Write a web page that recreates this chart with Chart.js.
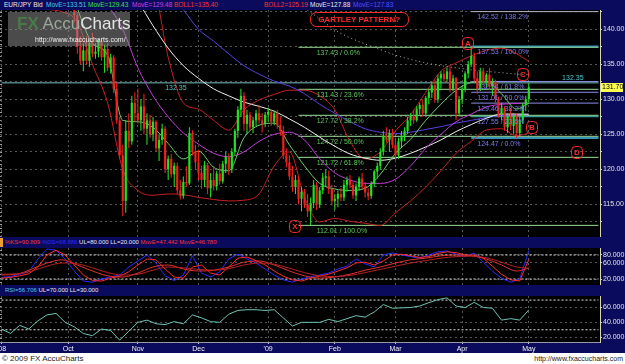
<!DOCTYPE html>
<html>
<head>
<meta charset="utf-8">
<script src="https://cdn.jsdelivr.net/npm/chart.js@4.4.0/dist/chart.umd.min.js"></script>
<style>
body { margin:0; width:625px; height:364px; overflow:hidden; background:#fff; position:relative; font-family:"Liberation Sans", Arial, sans-serif; }
.bar { position:absolute; left:0; width:625px; background:#0b0b5e; white-space:nowrap; overflow:hidden; }
.bar span { position:absolute; }
canvas { position:absolute; left:0; }
#wm { position:absolute; left:8px; top:12px; width:122px; height:34px; background:rgba(150,150,150,0.5); }
#foot { position:absolute; left:0; top:353px; width:625px; height:11px; font-size:8px; color:#222; }
</style>
</head>
<body>

<div class="bar" id="h1" style="top:0;height:10px;font-size:6.5px;line-height:10px">
  <span style="left:4px;color:#e8e8e8">EUR/JPY Bid</span>
  <span style="left:46px;color:#48c8e8">MovE=133.51</span>
  <span style="left:88px;color:#40e040">MovE=129.43</span>
  <span style="left:132px;color:#d040e0">MovE=129.48</span>
  <span style="left:174px;color:#ff3030">BOLL1=135.40</span>
  <span style="left:264px;color:#ff3030">BOLL2=125.19</span>
  <span style="left:310px;color:#e8e8e8">MovE=127.88</span>
  <span style="left:353px;color:#5050ff">MovE=127.83</span>
</div>
<canvas id="cMain" width="625" height="227" style="top:10px"></canvas>
<div id="wm">
  <div style="position:absolute;left:9px;top:3px;font-size:17px;line-height:18px;white-space:nowrap"><b style="color:#4a7a4a">FX</b> <span style="color:#9aa89a">Accu</span><span style="color:#e4e4e4">Charts</span></div>
  <div style="position:absolute;left:27px;top:24px;font-size:7px;color:#f0f0f0;white-space:nowrap">http://www.fxaccucharts.com/</div>
</div>

<div class="bar" id="h2" style="top:237px;height:11px;font-size:6px;line-height:11px">
  <span style="left:0;top:1px;width:3px;height:9px;background:#f0a030"></span>
  <span style="left:5px;color:#ff3030">%KS=90.809 <span style="position:static;color:#2a2aff">%DS=68.886</span> <span style="position:static;color:#e8e8e8">UL=80.000 LL=20.000</span> MovE=47.442 MovE=46.780</span>
</div>
<canvas id="cStoch" width="625" height="37" style="top:248px"></canvas>

<div class="bar" id="h3" style="top:285px;height:11px;font-size:6px;line-height:11px">
  <span style="left:5px;color:#48c8e8">RSI=56.706 <span style="position:static;color:#e8e8e8">UL=70.000 LL=30.000</span></span>
</div>
<canvas id="cRsi" width="625" height="57" style="top:296px"></canvas>

<div id="foot">
  <span style="position:absolute;left:2px;top:1px">© 2009 FX AccuCharts</span>
  <span style="position:absolute;right:2px;top:2px;font-size:7px">http://www.fxaccucharts.com</span>
</div>

<script>
// ---- data ----
const xTickLabels = ["'08", 'Oct', 'Nov', 'Dec', "'09", 'Feb', 'Mar', 'Apr', 'May'];
const priceTicks = [112.5, 115, 117.5, 120, 122.5, 125, 127.5, 130, 132.5, 135, 137.5, 140, 142.5];
const stochTicks = [20, 60, 80];
const rsiTicks = [20, 40, 60];

// daily EUR/JPY candles, 1 Sep 2008 .. 1 May 2009
const candleOpen = [
  158.5,158.2,157.0,155.0,152.5,151.0,154.0,152.0,151.2,153.0,152.2,149.0,150.0,148.5,151.5,154.0,155.5,154.0,155.0,153.0,152.0,147.5,150.0,147.0,144.0,
  142.0,137.5,135.5,137.0,135.5,138.0,136.5,136.8,138.2,136.0,137.2,134.5,136.0,131.5,127.0,122.0,115.5,125.5,124.0,129.5,128.0,127.0,129.0,125.8,127.0,
  125.0,126.8,123.0,124.2,125.8,120.0,121.5,119.3,120.5,117.0,116.2,118.2,118.0,125.2,122.6,121.0,119.5,118.5,120.6,117.3,118.5,117.6,119.4,118.3,120.8,
  121.8,120.0,122.5,125.5,128.5,130.5,126.5,127.8,126.0,127.0,128.0,127.0,126.5,127.8,128.2,126.8,128.0,126.3,125.5,122.0,121.0,119.0,117.5,118.5,115.8,
  116.8,115.0,114.0,115.2,117.8,115.0,117.0,118.8,119.0,117.2,115.5,115.8,116.5,116.0,117.8,118.5,117.8,116.3,117.5,118.7,117.6,116.7,116.2,117.9,119.7,
  120.5,122.5,124.8,124.2,125.2,123.5,122.0,124.0,124.8,125.5,127.0,127.6,127.0,128.6,129.2,128.0,130.2,131.0,132.0,130.0,133.0,133.6,132.9,134.0,131.5,
  133.0,128.0,130.0,131.5,133.7,135.0,136.2,133.0,131.5,134.0,132.5,133.5,131.8,132.5,130.0,127.8,128.8,126.0,127.5,126.2,127.6,125.2,127.0,129.2,130.0
];
const candleHigh = [
  159.5,158.8,157.5,155.8,153.5,154.5,154.5,153.0,153.5,153.8,152.5,151.0,150.5,152.0,155.0,156.0,156.0,155.5,155.5,154.0,152.5,151.0,151.0,148.0,145.5,
  142.5,139.0,138.0,139.0,138.5,139.5,138.0,138.6,138.8,137.8,138.0,136.5,136.3,132.4,127.5,123.5,127.0,128.0,130.5,131.0,131.5,130.0,130.8,128.0,127.8,
  127.5,127.0,125.0,126.5,126.2,122.0,122.2,121.0,121.0,118.5,119.0,120.5,126.0,125.6,123.5,122.8,120.5,121.2,120.9,119.5,120.5,119.8,120.8,121.2,122.5,
  122.3,123.0,125.8,129.0,131.5,131.0,128.5,128.2,127.5,128.5,129.2,128.0,128.2,128.8,128.6,128.4,128.5,127.5,126.2,123.0,122.0,120.5,119.2,119.0,117.5,
  117.2,116.5,116.0,118.5,118.2,117.5,119.5,120.0,119.8,117.8,116.5,117.0,117.3,118.5,119.0,119.2,118.2,118.0,119.0,119.5,118.2,117.3,118.3,120.0,121.0,
  123.0,125.5,126.0,125.7,125.8,124.5,124.5,125.5,126.0,127.5,128.0,128.5,129.0,129.5,130.0,130.5,131.5,132.5,132.8,133.5,134.0,134.2,134.5,134.7,133.5,
  133.2,130.5,131.8,134.0,135.5,137.43,136.7,134.0,134.5,134.5,133.8,134.5,133.0,132.8,130.4,129.5,129.0,128.0,128.8,128.0,128.0,127.5,129.5,130.5,132.35
];
const candleLow = [
  157.5,156.5,154.5,151.5,150.0,150.8,151.5,150.5,150.8,151.5,148.0,146.5,147.5,147.0,151.0,153.0,153.5,153.0,152.5,151.5,146.0,147.0,146.0,143.5,141.0,
  136.5,135.0,134.0,135.0,134.6,136.0,135.8,136.0,135.5,133.8,134.0,133.7,130.9,126.5,121.5,113.3,113.8,123.0,123.5,126.8,126.5,125.5,125.0,123.5,124.5,
  124.0,122.5,121.2,123.5,119.5,118.5,118.8,117.5,116.5,115.7,115.8,117.5,117.8,122.0,120.0,118.5,117.2,117.5,116.5,116.0,117.0,117.0,117.8,118.0,119.5,
  119.2,119.5,122.0,124.5,127.5,125.5,125.0,125.5,125.2,126.2,126.5,125.3,126.0,126.8,126.2,126.3,125.8,124.8,121.5,120.3,118.5,116.8,116.5,115.0,114.0,
  114.5,113.2,112.01,114.5,114.2,114.5,116.5,117.5,116.5,114.8,114.2,114.6,115.5,115.5,116.8,117.3,115.8,115.5,117.0,117.2,116.0,115.6,115.8,117.5,118.7,
  120.0,122.0,123.8,122.5,123.0,121.3,121.5,123.2,124.0,125.0,126.2,126.5,126.8,127.8,127.5,127.7,129.3,130.2,129.5,129.5,131.5,132.4,132.5,131.0,131.2,
  127.0,127.5,129.3,131.0,133.0,134.6,132.5,130.8,131.2,132.0,131.6,131.3,130.5,129.5,127.4,127.0,125.5,125.2,125.6,125.0,124.47,124.8,126.5,128.3,129.6
];
const candleClose = [
  158.2,157.0,155.0,152.5,151.0,154.0,152.0,151.2,153.0,152.2,149.0,150.0,148.5,151.5,154.0,155.5,154.0,155.0,153.0,152.0,147.5,150.0,147.0,144.0,142.0,
  137.5,135.5,137.0,135.5,138.0,136.5,136.8,138.2,136.0,137.2,134.5,136.0,131.5,127.0,122.0,115.5,125.5,124.0,129.5,128.0,127.0,129.0,125.8,127.0,125.0,
  126.8,123.0,124.2,125.8,120.0,121.5,119.3,120.5,117.0,116.2,118.2,118.0,125.2,122.6,121.0,119.5,118.5,120.6,117.3,118.5,117.6,119.4,118.3,120.8,121.8,
  120.0,122.5,125.5,128.5,130.5,126.5,127.8,126.0,127.0,128.0,127.0,126.5,127.8,128.2,126.8,128.0,126.3,125.5,122.0,121.0,119.0,117.5,118.5,115.8,116.8,
  115.0,114.0,115.2,117.8,115.0,117.0,118.8,119.0,117.2,115.5,115.8,116.5,116.0,117.8,118.5,117.8,116.3,117.5,118.7,117.6,116.7,116.2,117.9,119.7,120.5,
  122.5,124.8,124.2,125.2,123.5,122.0,124.0,124.8,125.5,127.0,127.6,127.0,128.6,129.2,128.0,130.2,131.0,132.0,130.0,133.0,133.6,132.9,134.0,131.5,133.0,
  128.0,130.0,131.5,133.7,135.0,136.2,133.0,131.5,134.0,132.5,133.5,131.8,132.5,130.0,127.8,128.8,126.0,127.5,126.2,127.6,125.2,127.0,129.2,130.0,131.7
];

// overlays read once a week (every 5th bar, last one on the final bar)
const maGreen  = [156,154.5,151.5,150,149.5,143,138,136.3,127,126.8,126,123.7,121.5,122.6,120.3,119.8,124.5,126.3,126.6,123.5,120.5,118,117.2,117,117.3,119.3,122.3,124.3,127,129.3,131.3,132.4,132.5,130.8,128.6,129.43];
const maMagenta= [158,157,155,153.5,152,149,146,143.5,140,134.5,130.5,127.5,125.2,123.6,122.3,121.8,122.5,124,125,125.3,124.2,121.5,119.5,118.5,118,118,118.6,120.5,123,125,126.8,127.9,128.9,129.3,129.4,129.48];
const maWhite  = [160,159.5,158.5,157,155.5,153.5,151.5,149.5,147,144,140.5,137.3,134.8,133,131.5,130.5,129.6,129,128.3,127.2,126,124.6,123.3,122.2,121.6,121.3,121.6,122.3,123.2,124.2,125.4,126.4,127.3,127.9,127.9,127.88];
const maBlue   = [163,162.5,162,161,160,158.5,157,155.5,153.5,151,148.5,145.5,142.8,140,138.3,136.5,134.8,133.6,132.6,131.9,130.8,129.3,128,126.8,125.8,125.3,125.1,125.3,125.7,126.1,126.6,127,127.4,127.7,127.8,127.83];
const maDotted = [166,165.8,165.5,165,164.5,163.8,163,162,160.8,159.5,158.2,156.8,155.3,153.8,152.3,150.8,149.3,147.8,146.3,144.6,143,141.5,139.9,138.8,137.9,137.1,136.3,135.7,135.2,134.8,134.5,134.2,134,133.8,133.6,133.51];
const bollUpper= [162,162,160,158,157,156,155,154,153,150,147,136,129.5,128.6,127,125.6,128.5,129.9,130.7,131.3,131.3,130.5,128.5,124,121.5,122.5,125.5,127.8,131,134,135.2,136.2,137,137.3,136.5,135.4];
const bollLower= [145,146,145,143,142.5,141,135,129.5,120,117,116.3,116.5,116.4,116,115.7,115.5,115.6,116.5,120.5,122.5,116,112.5,113,112.6,112.3,112,113.8,115.5,117.5,119.8,122.3,124,125.6,125.8,124.8,125.19];

// Fibonacci levels drawn on the chart
const fibXA    = [137.43, 131.43, 127.72, 124.72, 121.72, 112.01];
const fibXAPct = ['0.0%', '23.6%', '38.2%', '50.0%', '61.8%', '100.0%'];
const fibAB    = [142.52, 137.53, 132.54, 131.01, 129.46, 127.55, 124.47];
const fibABPct = ['138.2%', '100.0%', '61.8%', '50.0%', '38.2%', '23.6%', '0.0%'];
const resistance = 132.35;
const lastPrice = 131.70;

// pattern points (bar slot, price) and their letters
const pointText  = ['A', 'B', 'C', 'D', 'X'];
const pointBar   = [154, 175, 172, 190, 97];
const pointPrice = [137.9, 125.9, 133.5, 122.3, 111.8];

// stochastic, read every 3rd bar
const stochFast = [24,26,32,38,70,95,92,70,40,15,12,20,25,30,50,65,80,60,28,16,30,78,35,25,38,70,82,70,60,45,30,18,12,20,26,30,35,45,52,70,58,50,80,85,80,76,72,80,88,90,82,76,85,62,40,22,12,20,90.8];
const stochSlow = [22,24,28,33,50,80,92,80,55,30,16,15,22,27,38,55,70,68,45,25,22,50,55,35,30,50,72,75,66,55,40,27,18,15,22,27,32,40,48,60,62,55,65,80,82,78,74,76,84,88,86,80,80,72,52,32,18,15,68.9];
// stochastic moving averages, weekly
const stochMa1 = [30,32,45,60,68,55,40,28,25,35,50,55,45,40,42,50,62,65,55,40,28,22,25,32,42,50,60,68,72,78,80,78,70,55,40,47.4];
const stochMa2 = [32,33,40,52,60,58,48,36,30,32,42,50,48,44,42,46,55,60,57,47,36,28,26,29,36,44,52,60,66,72,76,77,73,62,50,46.8];
const stochLevels = [80, 20];
// RSI, read every 3rd bar
const rsiValues = [31,25,36,31,42,50,52,40,34,25,22,31,29,16,28,40,43,38,37,41,38,50,46,41,40,51,56,57,57,56,57,46,35,40,40,40,44,41,45,49,47,54,64,59,59.5,60,62,66.5,70.5,73,62,60,67,60,59,43,45,43,56.7];
const rsiLevels = [70, 30];

// ---- build ----
const FONT = '"Liberation Sans", Arial, sans-serif';
const NAVY = '#0b0b5e';
const GRID = '#555555';
const UP = '#22e022', DOWN = '#f02020';
const SLOTS = 198;
const LAST = candleClose.length - 1;

const labels = [];
const monthIdx = [];
const monthName = {};
(function () {
  const d = new Date(Date.UTC(2008, 8, 1));
  let lastMonth = -1, m = 0;
  while (labels.length < SLOTS) {
    const wd = d.getUTCDay();
    if (wd !== 0 && wd !== 6) {
      if (d.getUTCMonth() !== lastMonth) {
        if (m < xTickLabels.length) { monthName[labels.length] = xTickLabels[m]; monthIdx.push(labels.length); }
        m++; lastMonth = d.getUTCMonth();
      }
      labels.push(d.toISOString().slice(0, 10));
    }
    d.setUTCDate(d.getUTCDate() + 1);
  }
})();

const empty = () => new Array(SLOTS).fill(null);
function sampled(vals, step) {
  const a = empty();
  vals.forEach((v, k) => { a[Math.min(k * step, LAST)] = v; });
  return a;
}
function hline(v, from) {
  const a = empty();
  a[from] = v; a[SLOTS - 1] = v;
  return a;
}
function lineDs(data, color, width, extra) {
  return Object.assign({ type: 'line', data, borderColor: color, borderWidth: width, pointRadius: 0,
    spanGaps: true, tension: 0, clip: 0, order: 3 }, extra || {});
}
const smooth = { cubicInterpolationMode: 'monotone', order: 2 };

const wick = empty(), body = empty();
candleClose.forEach((c, i) => { wick[i] = [candleLow[i], candleHigh[i]]; body[i] = [candleOpen[i], c]; });
const candleColor = candleClose.map((c, i) => c >= candleOpen[i] ? UP : DOWN);

// panel backgrounds plus the dotted tick column on the left edge
const bgPlugin = {
  id: 'bg',
  beforeDraw(c) {
    const { ctx, chartArea: a } = c;
    ctx.save();
    ctx.fillStyle = NAVY; ctx.fillRect(0, 0, c.width, c.height);
    ctx.fillStyle = '#000'; ctx.fillRect(a.left, a.top, a.right - a.left, a.bottom - a.top);
    ctx.fillStyle = '#9a9a9a';
    for (let yy = a.top + 2; yy < a.bottom; yy += 4) ctx.fillRect(a.left, yy, 2, 1);
    ctx.restore();
  }
};

function xScale(showLabels) {
  return {
    type: 'category', offset: true,
    grid: { display: true, offset: false, color: GRID, drawTicks: showLabels, tickLength: 2, tickColor: '#c8c8c8' },
    border: { display: showLabels, color: '#9a9aa8', dash: [2, 3] },
    ticks: { display: showLabels, autoSkip: false, maxRotation: 0, padding: 1, color: '#f0f0f0',
      font: { size: 7, family: FONT }, callback: v => monthName[v] || '' },
    afterBuildTicks: s => { s.ticks = monthIdx.map(v => ({ value: v })); },
    afterFit: s => { s.height = showLabels ? 11 : 0; s.paddingLeft = 0; s.paddingRight = 0; }
  };
}
function yScale(min, max, ticks, fmt) {
  return {
    position: 'right', min, max,
    afterBuildTicks: s => { s.ticks = ticks.map(v => ({ value: v })); },
    ticks: { color: '#e4e4e4', padding: 1, font: { size: 7, family: FONT }, callback: fmt },
    grid: { color: GRID, tickColor: '#d8d8b0', tickLength: 2 },
    border: { display: true, color: '#d8d8b0', dash: [2, 3] },
    afterFit: s => { s.width = 25; s.paddingTop = 0; s.paddingBottom = 0; }
  };
}
const baseOpts = {
  responsive: false, animation: false, events: [],
  layout: { padding: 0 },
  plugins: { legend: { display: false }, tooltip: { enabled: false } }
};

// text on the price panel
const notesPlugin = {
  id: 'notes',
  afterDatasetsDraw(c) {
    const { ctx, chartArea: a } = c;
    const x = c.scales.x, y = c.scales.y;
    ctx.save();
    ctx.beginPath(); ctx.rect(a.left, a.top, a.right - a.left, a.bottom - a.top); ctx.clip();
    ctx.font = '7px ' + FONT; ctx.textBaseline = 'top'; ctx.textAlign = 'left';
    ctx.fillStyle = '#5ccc5c';
    fibXA.forEach((v, i) => ctx.fillText(v.toFixed(2) + ' / ' + fibXAPct[i], x.getPixelForValue(104), y.getPixelForValue(v) + 2));
    ctx.fillStyle = '#7c7cf4';
    fibAB.forEach((v, i) => ctx.fillText(v.toFixed(2) + ' / ' + fibABPct[i], x.getPixelForValue(157), y.getPixelForValue(v) + 2));
    ctx.fillStyle = '#50c8c8';
    ctx.fillText(resistance.toFixed(2), x.getPixelForValue(54), y.getPixelForValue(resistance) + 2);
    ctx.textBaseline = 'bottom';
    ctx.fillText(resistance.toFixed(2), x.getPixelForValue(185), y.getPixelForValue(resistance) - 1);

    // pattern letters
    ctx.strokeStyle = '#ff2a2a'; ctx.fillStyle = '#ff2a2a'; ctx.lineWidth = 1;
    ctx.font = 'bold 8px ' + FONT; ctx.textAlign = 'center'; ctx.textBaseline = 'middle';
    pointText.forEach((t, i) => {
      const px = Math.round(x.getPixelForValue(pointBar[i])), py = Math.round(y.getPixelForValue(pointPrice[i]));
      ctx.beginPath(); ctx.roundRect(px - 5.5, py - 6.5, 11, 12, 4); ctx.stroke();
      ctx.fillText(t, px, py);
    });
    // title box
    const gx = x.getPixelForValue(118), gy = y.getPixelForValue(141.4);
    ctx.beginPath(); ctx.roundRect(Math.round(gx - 49) + 0.5, Math.round(gy - 7) + 0.5, 98, 14, 6); ctx.stroke();
    ctx.fillText('GARTLEY PATTERN?', gx, gy + 0.5);
    ctx.restore();

    // last price tag on the axis
    const ty = Math.round(y.getPixelForValue(lastPrice));
    ctx.save();
    ctx.fillStyle = '#ffff50'; ctx.fillRect(a.right + 1, ty - 4, 22, 9);
    ctx.fillStyle = '#000'; ctx.font = '7px ' + FONT; ctx.textBaseline = 'middle'; ctx.textAlign = 'left';
    ctx.fillText(lastPrice.toFixed(2), a.right + 2, ty + 0.5);
    ctx.restore();
  }
};

const fibABColor = ['#b8b8c8', '#3a90b8', '#8c8cec', '#8c8cec', '#8c8cec', '#3a9898', '#3a90b8'];
const fibABWidth = [1, 2, 1, 1, 1, 1.5, 2];

const mainSets = [
  { type: 'bar', data: body, backgroundColor: candleColor, barPercentage: 0.72, categoryPercentage: 1,
    grouped: false, minBarLength: 1, clip: 0, order: 0 },
  { type: 'bar', data: wick, backgroundColor: candleColor, barPercentage: 0.35, categoryPercentage: 1,
    grouped: false, clip: 0, order: 1 },
  lineDs(sampled(maGreen, 5), '#6ad06a', 1, smooth),
  lineDs(sampled(maMagenta, 5), '#c03cd8', 1, smooth),
  lineDs(sampled(maWhite, 5), '#f0f0f0', 1, smooth),
  lineDs(sampled(maBlue, 5), '#5a40e0', 1, smooth),
  lineDs(sampled(maDotted, 5), '#b0b0b0', 1, Object.assign({ borderDash: [1, 3] }, smooth)),
  lineDs(sampled(bollUpper, 5), '#c82020', 1, smooth),
  lineDs(sampled(bollLower, 5), '#c82020', 1, smooth),
  lineDs(hline(resistance, 0), '#78c0c0', 1)
];
fibXA.forEach(v => mainSets.push(lineDs(hline(v, 98), '#98e098', 1)));
fibAB.forEach((v, i) => mainSets.push(lineDs(hline(v, 155), fibABColor[i], fibABWidth[i])));

new Chart(document.getElementById('cMain'), {
  type: 'bar',
  data: { labels, datasets: mainSets },
  options: Object.assign({}, baseOpts, {
    scales: { x: xScale(false), y: yScale(110.35, 142.75, priceTicks, v => v % 5 === 0 ? v.toFixed(2) : '') }
  }),
  plugins: [bgPlugin, notesPlugin]
});

const stochSets = [
  lineDs(sampled(stochMa2, 5), '#b82020', 1, smooth),
  lineDs(sampled(stochMa1, 5), '#e03030', 1, smooth),
  lineDs(sampled(stochSlow, 3), '#ff2a2a', 1),
  lineDs(sampled(stochFast, 3), '#2a2aff', 1)
];
stochLevels.forEach(v => stochSets.push(lineDs(hline(v, 0), '#e0e0e0', 1, { borderDash: [2, 2], order: 5 })));
new Chart(document.getElementById('cStoch'), {
  type: 'line',
  data: { labels, datasets: stochSets },
  options: Object.assign({}, baseOpts, {
    scales: { x: xScale(false), y: yScale(5, 97.5, stochTicks, v => v.toFixed(3)) }
  }),
  plugins: [bgPlugin]
});

const rsiSets = [lineDs(sampled(rsiValues, 3), '#6cc4b4', 1)];
rsiLevels.forEach(v => rsiSets.push(lineDs(hline(v, 0), '#e0e0e0', 1, { borderDash: [2, 2], order: 5 })));
new Chart(document.getElementById('cRsi'), {
  type: 'line',
  data: { labels, datasets: rsiSets },
  options: Object.assign({}, baseOpts, {
    scales: { x: xScale(true), y: yScale(13.5, 75.5, rsiTicks, v => v.toFixed(3)) }
  }),
  plugins: [bgPlugin]
});
</script>
</body>
</html>
